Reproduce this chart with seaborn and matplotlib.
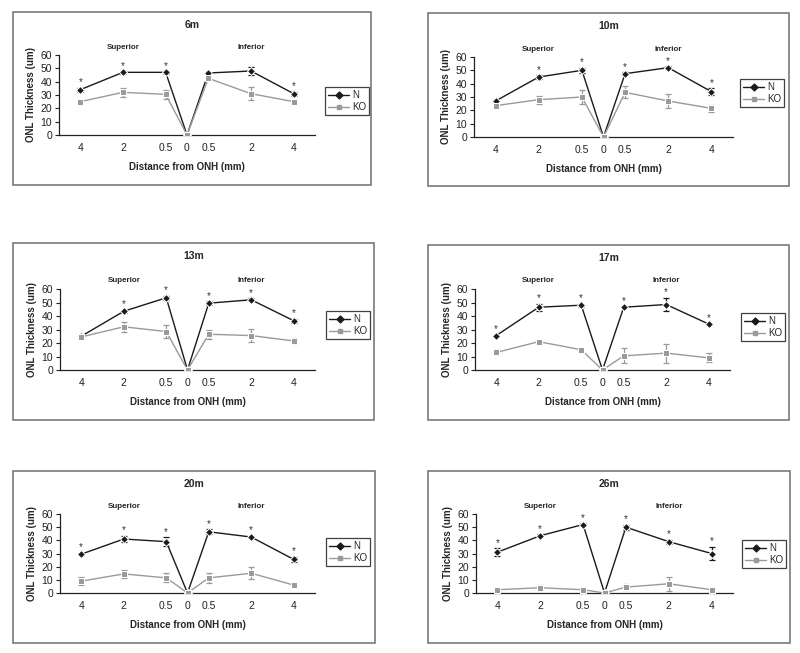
import numpy as np
import pandas as pd
import matplotlib
matplotlib.use("Agg")
import matplotlib.pyplot as plt
import seaborn as sns
from matplotlib.patches import Rectangle
from matplotlib.lines import Line2D

# x categories (distance from ONH, superior -> inferior)
distances = ["4", "2", "0.5", "0", "0.5", "2", "4"]
ages = ["6m", "10m", "13m", "17m", "20m", "26m"]

# mean ONL thickness (um), N (wild type)
n_6m = [34, 47, 47, 0, 46.5, 48, 31]
n_10m = [27, 45, 50, 0, 47.5, 52, 34]
n_13m = [25, 43.5, 53.5, 0, 49.5, 52, 36.5]
n_17m = [25.5, 46.5, 48, 0, 46.5, 48.5, 34]
n_20m = [29.5, 41, 39, 0, 46.5, 42.5, 25.5]
n_26m = [31, 43.5, 52, 0, 50, 39, 30]

# error bars N
n_err_6m = [1.5, 1, 1, 0, 1, 3, 1.5]
n_err_10m = [1, 1.5, 2, 0, 1, 1, 2.5]
n_err_13m = [1, 1, 1.5, 0, 1.5, 1, 1.5]
n_err_17m = [0.5, 2.5, 1, 0, 0.5, 5, 0.5]
n_err_20m = [1, 2.5, 3.5, 0, 2, 1, 2]
n_err_26m = [3, 1, 1, 0, 2, 1.5, 5]

# mean ONL thickness (um), KO
ko_6m = [25, 32, 30.5, 0, 42.5, 31, 25]
ko_10m = [23.5, 28, 30, 0, 33.5, 27, 21.5]
ko_13m = [24.5, 32, 28.5, 0, 26.5, 25.5, 21.5]
ko_17m = [13, 21, 15, 0, 10.5, 12.5, 9]
ko_20m = [9, 14.5, 11.5, 0, 11.5, 15, 6]
ko_26m = [2.5, 4, 2.5, 0, 4.5, 7, 2.5]

# error bars KO
ko_err_6m = [1, 3.5, 3.5, 0, 1, 5, 1.5]
ko_err_10m = [1.5, 3, 5, 0, 4.5, 5, 2.5]
ko_err_13m = [1, 3.5, 5, 0, 3.5, 5, 2]
ko_err_17m = [1, 1, 1.5, 0, 5.5, 7, 3.3]
ko_err_20m = [3, 3, 3.5, 0, 4, 4.5, 1.5]
ko_err_26m = [1, 2, 0.5, 0, 2, 5.2, 0.5]

# significant points (index into distances)
sig_6m = [0, 1, 2, 6]
sig_10m = [1, 2, 4, 5, 6]
sig_13m = [1, 2, 4, 5, 6]
sig_17m = [0, 1, 2, 4, 5, 6]
sig_20m = [0, 1, 2, 4, 5, 6]
sig_26m = [0, 1, 2, 4, 5, 6]

panels = [
    (ages[0], n_6m, n_err_6m, ko_6m, ko_err_6m, sig_6m),
    (ages[1], n_10m, n_err_10m, ko_10m, ko_err_10m, sig_10m),
    (ages[2], n_13m, n_err_13m, ko_13m, ko_err_13m, sig_13m),
    (ages[3], n_17m, n_err_17m, ko_17m, ko_err_17m, sig_17m),
    (ages[4], n_20m, n_err_20m, ko_20m, ko_err_20m, sig_20m),
    (ages[5], n_26m, n_err_26m, ko_26m, ko_err_26m, sig_26m),
]

# layout in pixels (800 x 653): frame box and axes box
W, H = 800, 653
frames = [(13, 12, 371, 185), (428, 13, 789, 186),
          (13, 243, 374, 420), (428, 245, 789, 420),
          (13, 471, 375, 643), (428, 471, 790, 643)]
axboxes = [(59, 55, 315, 135), (474, 57, 733, 137),
           (60, 289, 315, 370), (475, 289, 730, 370),
           (60, 514, 315, 593), (476, 514, 733, 593)]
legboxes = [(325, 87), (740, 79), (326, 311), (741, 313), (326, 538), (742, 540)]

POS = [-2.5, -1.5, -0.5, 0, 0.5, 1.5, 2.5]
N_COL = "#1a1a1a"
KO_COL = "#9a9a9a"

sns.set_style("white")
plt.rcParams['font.family'] = ['Liberation Sans', 'DejaVu Sans']

fig = plt.figure(figsize=(W / 100, H / 100), dpi=100)


def fx(x):
    return x / W


def fy(y):
    return 1 - y / H


for (age, n, n_err, ko, ko_err, sig), fr, ab, lb in zip(panels, frames, axboxes, legboxes):
    fig.patches.append(Rectangle((fx(fr[0]), fy(fr[3])), fx(fr[2] - fr[0]), (fr[3] - fr[1]) / H,
                                 transform=fig.transFigure, fill=False,
                                 edgecolor="#6e6e6e", linewidth=1.1))
    ax = fig.add_axes([fx(ab[0]), fy(ab[3]), fx(ab[2] - ab[0]), (ab[3] - ab[1]) / H])

    df = pd.DataFrame({
        "pos": POS * 2,
        "thickness": n + ko,
        "err": n_err + ko_err,
        "group": ["N"] * 7 + ["KO"] * 7,
    })
    sns.lineplot(data=df, x="pos", y="thickness", hue="group", style="group",
                 palette={"N": N_COL, "KO": KO_COL},
                 markers={"N": "D", "KO": "s"}, dashes=False,
                 markersize=4, linewidth=1.0, legend=False, ax=ax, zorder=3)
    for grp, col in (("N", N_COL), ("KO", KO_COL)):
        sub = df[df["group"] == grp]
        ax.errorbar(sub["pos"], sub["thickness"], yerr=sub["err"], fmt="none",
                    ecolor=col, elinewidth=0.9, capsize=2.2, capthick=0.9, zorder=2)

    for i in sig:
        ax.text(POS[i], n[i] + n_err[i] + 0.3, "*", ha="center", va="bottom",
                fontsize=7, color="#333333", clip_on=False)

    ax.text(-1.5, 66, "Superior", ha="center", va="center", fontsize=5.8,
            fontweight="bold", clip_on=False)
    ax.text(1.5, 66, "Inferior", ha="center", va="center", fontsize=5.8,
            fontweight="bold", clip_on=False)

    ax.set_xlim(-3, 3)
    ax.set_ylim(0, 60)
    ax.set_yticks(range(0, 61, 10))
    ax.set_xticks(POS)
    ax.set_xticklabels(distances)
    ax.set_xticks(range(-3, 4), minor=True)
    ax.tick_params(axis="x", which="major", length=0, labelsize=7.5, pad=6, colors="#222222")
    ax.tick_params(axis="x", which="minor", length=3, width=0.8, direction="out", color="#222222")
    ax.tick_params(axis="y", length=3, width=0.8, direction="out", labelsize=7.5, pad=2,
                   left=True, colors="#222222")
    for side in ("top", "right"):
        ax.spines[side].set_visible(False)
    for side in ("left", "bottom"):
        ax.spines[side].set_color("#222222")
        ax.spines[side].set_linewidth(0.9)
    ax.set_xlabel("Distance from ONH (mm)", fontsize=7, fontweight="bold", labelpad=6)
    ax.set_ylabel("ONL Thickness (um)", fontsize=7, fontweight="bold", labelpad=3)

    fig.text(fx((fr[0] + fr[2]) / 2), fy(fr[1] + 13), age, ha="center", va="center",
             fontsize=7.5, fontweight="bold")

    handles = [Line2D([], [], color=N_COL, marker="D", markersize=3.5, linewidth=1.0),
               Line2D([], [], color=KO_COL, marker="s", markersize=3.5, linewidth=1.0)]
    leg = fig.legend(handles, ["N", "KO"], loc="upper left",
                     bbox_to_anchor=(fx(lb[0]), fy(lb[1])), fontsize=7,
                     frameon=True, fancybox=False, handlelength=2.2, handletextpad=0.3,
                     borderpad=0.3, labelspacing=0.25, borderaxespad=0)
    leg.get_frame().set_edgecolor("#111111")
    leg.get_frame().set_linewidth(0.9)

fig.savefig("out.png", dpi=100, facecolor="white")
